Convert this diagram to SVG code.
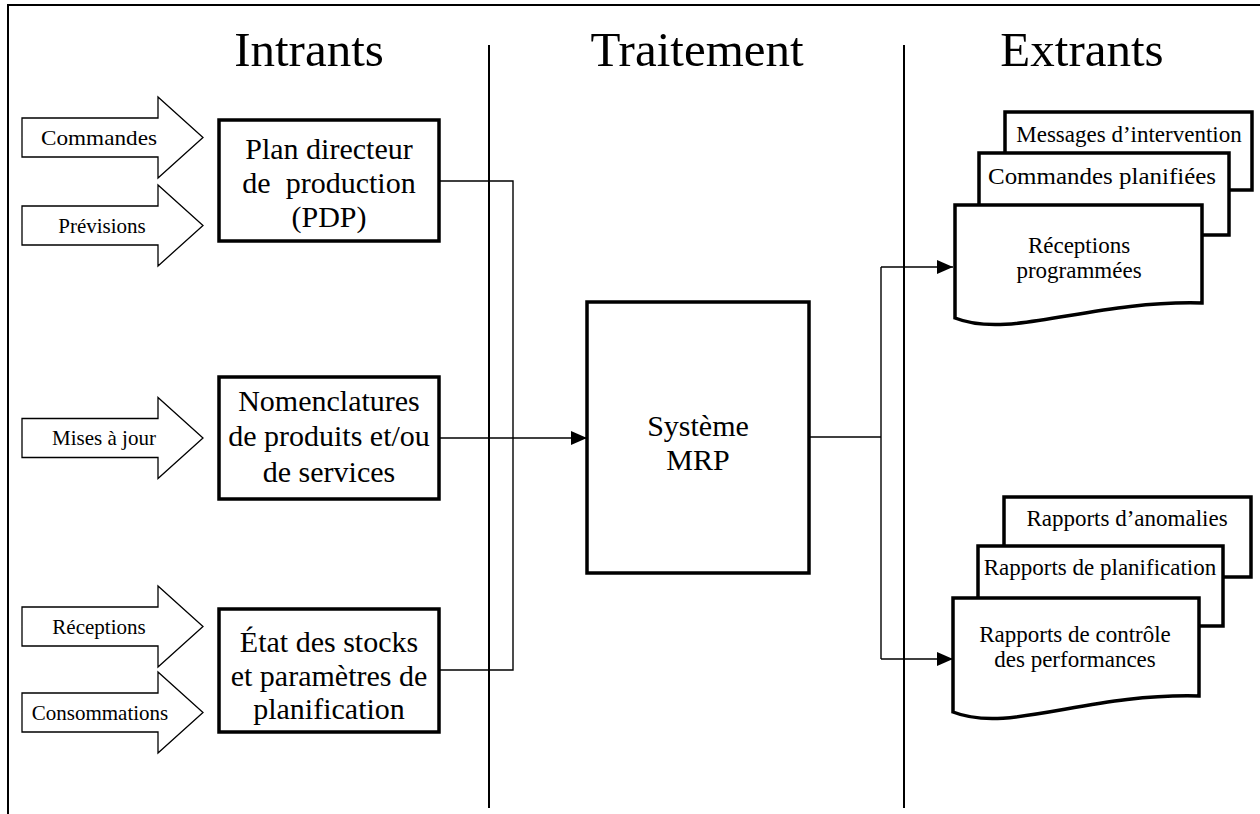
<svg xmlns="http://www.w3.org/2000/svg" width="1260" height="814" viewBox="0 0 1260 814">
<style>
text{font-family:"Liberation Serif","Times New Roman",serif;fill:#000}
.h{font-size:49px;text-anchor:middle}
.s{font-size:21px;text-anchor:middle}
.b{font-size:30px;text-anchor:middle}
.d{font-size:23px;text-anchor:middle}
.box{fill:#fff;stroke:#000;stroke-width:3.5}
.doc{fill:#fff;stroke:#000;stroke-width:3.5}
.arr{fill:#fff;stroke:#000;stroke-width:1.3}
.ln{fill:none;stroke:#000;stroke-width:1.4}
.div{fill:none;stroke:#000;stroke-width:2}
</style>
<defs>
<marker id="ah" viewBox="0 0 16 14" refX="16" refY="7" markerWidth="16" markerHeight="14" markerUnits="userSpaceOnUse" orient="auto">
<path d="M0,0 L16,7 L0,14 Z" fill="#000"/>
</marker>
</defs>
<rect width="1260" height="814" fill="#fff"/>
<g id="frame">
<path class="div" d="M8,814 V5 H1260" stroke-width="1.6"/>
<path class="div" d="M489,45 V808"/>
<path class="div" d="M904,45 V808"/>
<text class="h" x="309" y="66">Intrants</text>
<text class="h" x="697" y="66">Traitement</text>
<text class="h" x="1082" y="66">Extrants</text>
</g>
<g id="connectors">
<path class="ln" d="M439,181 H513 V670 H439"/>
<path class="ln" d="M439,438 H587" marker-end="url(#ah)"/>
<path class="ln" d="M809,437 H881"/>
<path class="ln" d="M881,267 V659"/>
<path class="ln" d="M881,267 H953" marker-end="url(#ah)"/>
<path class="ln" d="M881,659 H953" marker-end="url(#ah)"/>
</g>
<g id="in-commandes">
<polygon class="arr" points="22,118 158,118 158,97 203,137.5 158,178 158,157 22,157"/>
<text class="s" x="99" y="145" textLength="116" lengthAdjust="spacingAndGlyphs">Commandes</text>
</g>
<g id="in-previsions">
<polygon class="arr" points="22,206 158,206 158,185 203,225.5 158,266 158,245 22,245"/>
<text class="s" x="102" y="233">Prévisions</text>
</g>
<g id="in-mises">
<polygon class="arr" points="22,418.5 158,418.5 158,397.5 203,438 158,478.5 158,457.5 22,457.5"/>
<text class="s" x="104" y="445">Mises à jour</text>
</g>
<g id="in-receptions">
<polygon class="arr" points="22,607 158,607 158,586 203,626.5 158,667 158,646 22,646"/>
<text class="s" x="99" y="634">Réceptions</text>
</g>
<g id="in-consommations">
<polygon class="arr" points="22,693 158,693 158,672 203,712.5 158,753 158,732 22,732"/>
<text class="s" x="100" y="720">Consommations</text>
</g>
<g id="pdp">
<rect class="box" x="219" y="120" width="220" height="121"/>
<text class="b" x="329" y="159">Plan directeur</text>
<text class="b" x="329" y="193" xml:space="preserve">de  production</text>
<text class="b" x="329" y="227">(PDP)</text>
</g>
<g id="nomenclatures">
<rect class="box" x="219" y="377" width="220" height="122"/>
<text class="b" x="329" y="411">Nomenclatures</text>
<text class="b" x="329" y="446">de produits et/ou</text>
<text class="b" x="329" y="482">de services</text>
</g>
<g id="etat">
<rect class="box" x="219" y="609" width="220" height="123"/>
<text class="b" x="329" y="652">État des stocks</text>
<text class="b" x="329" y="686">et paramètres de</text>
<text class="b" x="329" y="719">planification</text>
</g>
<g id="mrp">
<rect class="box" x="587" y="302" width="222" height="271"/>
<text class="b" x="698" y="436">Système</text>
<text class="b" x="698" y="470">MRP</text>
</g>
<g id="out-messages">
<rect class="doc" x="1005" y="112" width="247" height="78"/>
<text class="d" x="1129" y="142">Messages d’intervention</text>
</g>
<g id="out-commandes">
<rect class="doc" x="979" y="153" width="250" height="82"/>
<text class="d" x="1102" y="184" textLength="228" lengthAdjust="spacingAndGlyphs">Commandes planifiées</text>
</g>
<g id="out-receptions">
<path class="doc" d="M955,205 H1202 V303 C1090,300 1010,340 955,318 Z"/>
<text class="d" x="1079" y="253">Réceptions</text>
<text class="d" x="1079" y="278">programmées</text>
</g>
<g id="out-anomalies">
<rect class="doc" x="1004" y="497" width="247" height="80"/>
<text class="d" x="1127" y="526">Rapports d’anomalies</text>
</g>
<g id="out-planification">
<rect class="doc" x="978" y="546" width="245" height="80"/>
<text class="d" x="1100" y="575">Rapports de planification</text>
</g>
<g id="out-controle">
<path class="doc" d="M953,598 H1199 V696 C1087,693 1008,734 953,712 Z"/>
<text class="d" x="1075" y="642">Rapports de contrôle</text>
<text class="d" x="1075" y="667">des performances</text>
</g>
</svg>
